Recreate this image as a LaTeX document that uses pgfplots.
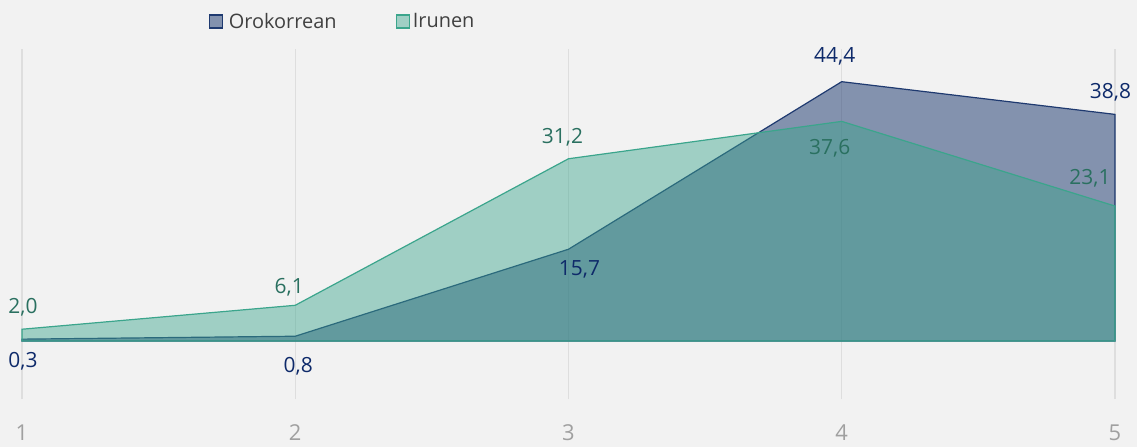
\documentclass[border=0pt]{standalone}
\usepackage{pgfplots}
\pgfplotsset{compat=1.18}
\usepackage{pgfplotstable}
\usepackage{fontspec}
\setmainfont{Open Sans}
\definecolor{bg}{HTML}{F2F2F2}
\definecolor{navyc}{HTML}{1F3A70}
\definecolor{navytext}{HTML}{0E2A6A}
\definecolor{tealc}{HTML}{3BA58C}
\definecolor{tealtext}{HTML}{2A7060}
\definecolor{gridc}{HTML}{DEDEDE}
\definecolor{tickc}{HTML}{A0A0A0}
\definecolor{legtext}{HTML}{404040}

\pgfplotstableread{
x y lab dx dy
1 0.3 0,3 1 -22.5
2 0.8 0,8 3 -30
3 15.7 15,7 11 -20
4 44.4 44,4 -7 25
5 38.8 38,8 -4.5 22
}\oro
\pgfplotstableread{
x y lab dx dy
1 2.0 2,0 1 22
2 6.1 6,1 -6 18
3 31.2 31,2 -6 21
4 37.6 37,6 -12 -27
5 23.1 23,1 -25 28
}\iru

\begin{document}
\begin{tikzpicture}
\fill[bg] (0bp,0bp) rectangle (1137bp,447bp);
\useasboundingbox (0bp,0bp) rectangle (1137bp,447bp);
\begin{axis}[
  at={(22bp,48bp)}, anchor=south west,
  scale only axis, width=1093bp, height=350bp,
  xmin=1, xmax=5, ymin=-9.95, ymax=50,
  axis line style={draw=none},
  ytick=\empty, xtick={1,2,3,4,5},
  major tick length=0pt,
  xmajorgrids, grid style={gridc, line width=1.3bp},
  xticklabel style={font=\fontsize{22}{26}\selectfont, text=tickc, yshift=-22bp},
  /pgf/number format/assume math mode=true,
  clip=false,
  legend columns=2,
  legend style={at={(axis description cs:0.1705,1.0786)}, anchor=west,
    draw=none, fill=none, inner sep=0pt,
    font=\fontsize{20}{24}\selectfont, text=legtext,
    nodes={inner sep=3bp},
    /tikz/every even column/.append style={column sep=56bp}},
  legend image code/.code={\draw[#1, line width=1.3bp] (0bp,-6.5bp) rectangle (13bp,6.5bp);},
]
\addplot[draw=navyc, line width=1.2bp, fill=navyc, fill opacity=0.52] table[x=x,y=y]{\oro} \closedcycle;
\addlegendentry{\hspace{3bp}Orokorrean}
\addplot[draw=tealc, line width=1.2bp, fill=tealc, fill opacity=0.45] table[x=x,y=y]{\iru} \closedcycle;
\addlegendentry{Irunen}

\addplot[draw=none, mark=none, forget plot, nodes near coords, point meta=explicit symbolic,
  visualization depends on={\thisrow{dx}\as\dx},
  visualization depends on={\thisrow{dy}\as\dy},
  nodes near coords style={anchor=center, xshift=\dx bp, yshift=\dy bp, text=navytext, font=\fontsize{21}{25}\selectfont}]
  table[x=x,y=y,meta=lab]{\oro};
\addplot[draw=none, mark=none, forget plot, nodes near coords, point meta=explicit symbolic,
  visualization depends on={\thisrow{dx}\as\dx},
  visualization depends on={\thisrow{dy}\as\dy},
  nodes near coords style={anchor=center, xshift=\dx bp, yshift=\dy bp, text=tealtext, font=\fontsize{21}{25}\selectfont}]
  table[x=x,y=y,meta=lab]{\iru};
\end{axis}
\end{tikzpicture}
\end{document}
